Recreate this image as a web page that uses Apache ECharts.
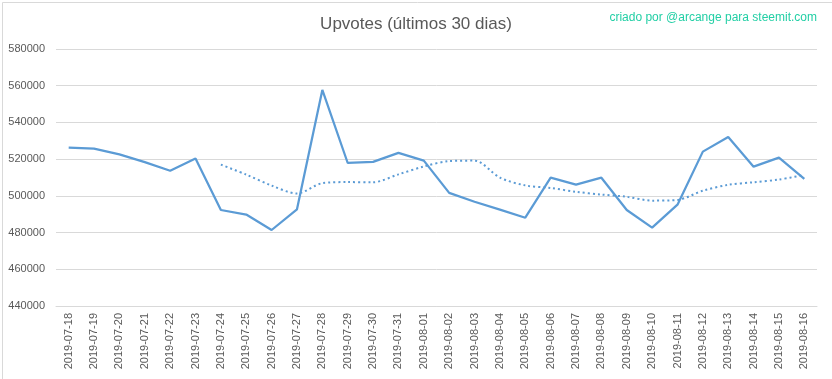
<!DOCTYPE html>
<html>
<head>
<meta charset="utf-8">
<script src="https://cdn.jsdelivr.net/npm/echarts@6/dist/echarts.min.js"></script>
<style>
html,body{margin:0;padding:0;background:#fff;}
#c{width:832px;height:379px;}
</style>
</head>
<body>
<div id="c"></div>
<script>
const categories = ['2019-07-18','2019-07-19','2019-07-20','2019-07-21','2019-07-22','2019-07-23','2019-07-24','2019-07-25','2019-07-26','2019-07-27','2019-07-28','2019-07-29','2019-07-30','2019-07-31','2019-08-01','2019-08-02','2019-08-03','2019-08-04','2019-08-05','2019-08-06','2019-08-07','2019-08-08','2019-08-09','2019-08-10','2019-08-11','2019-08-12','2019-08-13','2019-08-14','2019-08-15','2019-08-16'];
const upvotes = [526300,525700,522600,518400,513700,520300,492300,489800,481400,492700,557700,517900,518500,523400,519200,501600,496800,492500,488100,509900,506100,509900,492300,482700,495200,524100,532100,515900,520800,509200];
const movingAvg = ['-','-','-','-','-','-',517000,511600,505600,501300,506900,507500,507400,511700,516000,518900,519200,509900,505700,504300,502200,500700,499500,497400,497800,502800,506000,507400,508900,511400];
const yTicks = {min:440000, max:580000, interval:20000};

const chart = echarts.init(document.getElementById('c'), null, {renderer:'canvas'});
chart.setOption({
  animation:false,
  backgroundColor:'#ffffff',
  title:[{
    text:'Upvotes (últimos 30 dias)',
    left:'center', top:11,
    textStyle:{fontFamily:'Liberation Sans',fontSize:17,fontWeight:'normal',color:'#595959'}
  },{
    text:'criado por @arcange para steemit.com',
    right:10, top:7,
    textStyle:{fontFamily:'Liberation Sans',fontSize:12,fontWeight:'normal',color:'#22CFA5'}
  }],
  graphic:[{
    type:'rect', left:0, top:0, silent:true,
    shape:{x:0.5,y:0.5,width:830,height:377},
    style:{fill:'none',stroke:'#d9d9d9',lineWidth:1}
  }],
  grid:{left:56, right:15, top:49, bottom:73, containLabel:false},
  xAxis:{
    type:'category', data:categories, boundaryGap:true,
    axisLine:{show:true,lineStyle:{color:'#d9d9d9'}},
    axisTick:{show:false},
    axisLabel:{rotate:90,interval:0,fontFamily:'Liberation Sans',fontSize:11,color:'#595959',margin:7}
  },
  yAxis:{
    type:'value', min:yTicks.min, max:yTicks.max, interval:yTicks.interval,
    axisLine:{show:false}, axisTick:{show:false},
    splitLine:{lineStyle:{color:'#d9d9d9'}},
    axisLabel:{fontFamily:'Liberation Sans',fontSize:11,color:'#595959',margin:11,formatter:function(v){return String(v);}}
  },
  series:[{
    type:'line', data:upvotes, symbol:'none',
    lineStyle:{color:'#5B9BD5',width:2.25}
  },{
    type:'line', data:movingAvg, symbol:'none', smooth:0.3,
    lineStyle:{color:'#5B9BD5',width:2,type:[2,3]}
  }]
});
</script>
</body>
</html>
